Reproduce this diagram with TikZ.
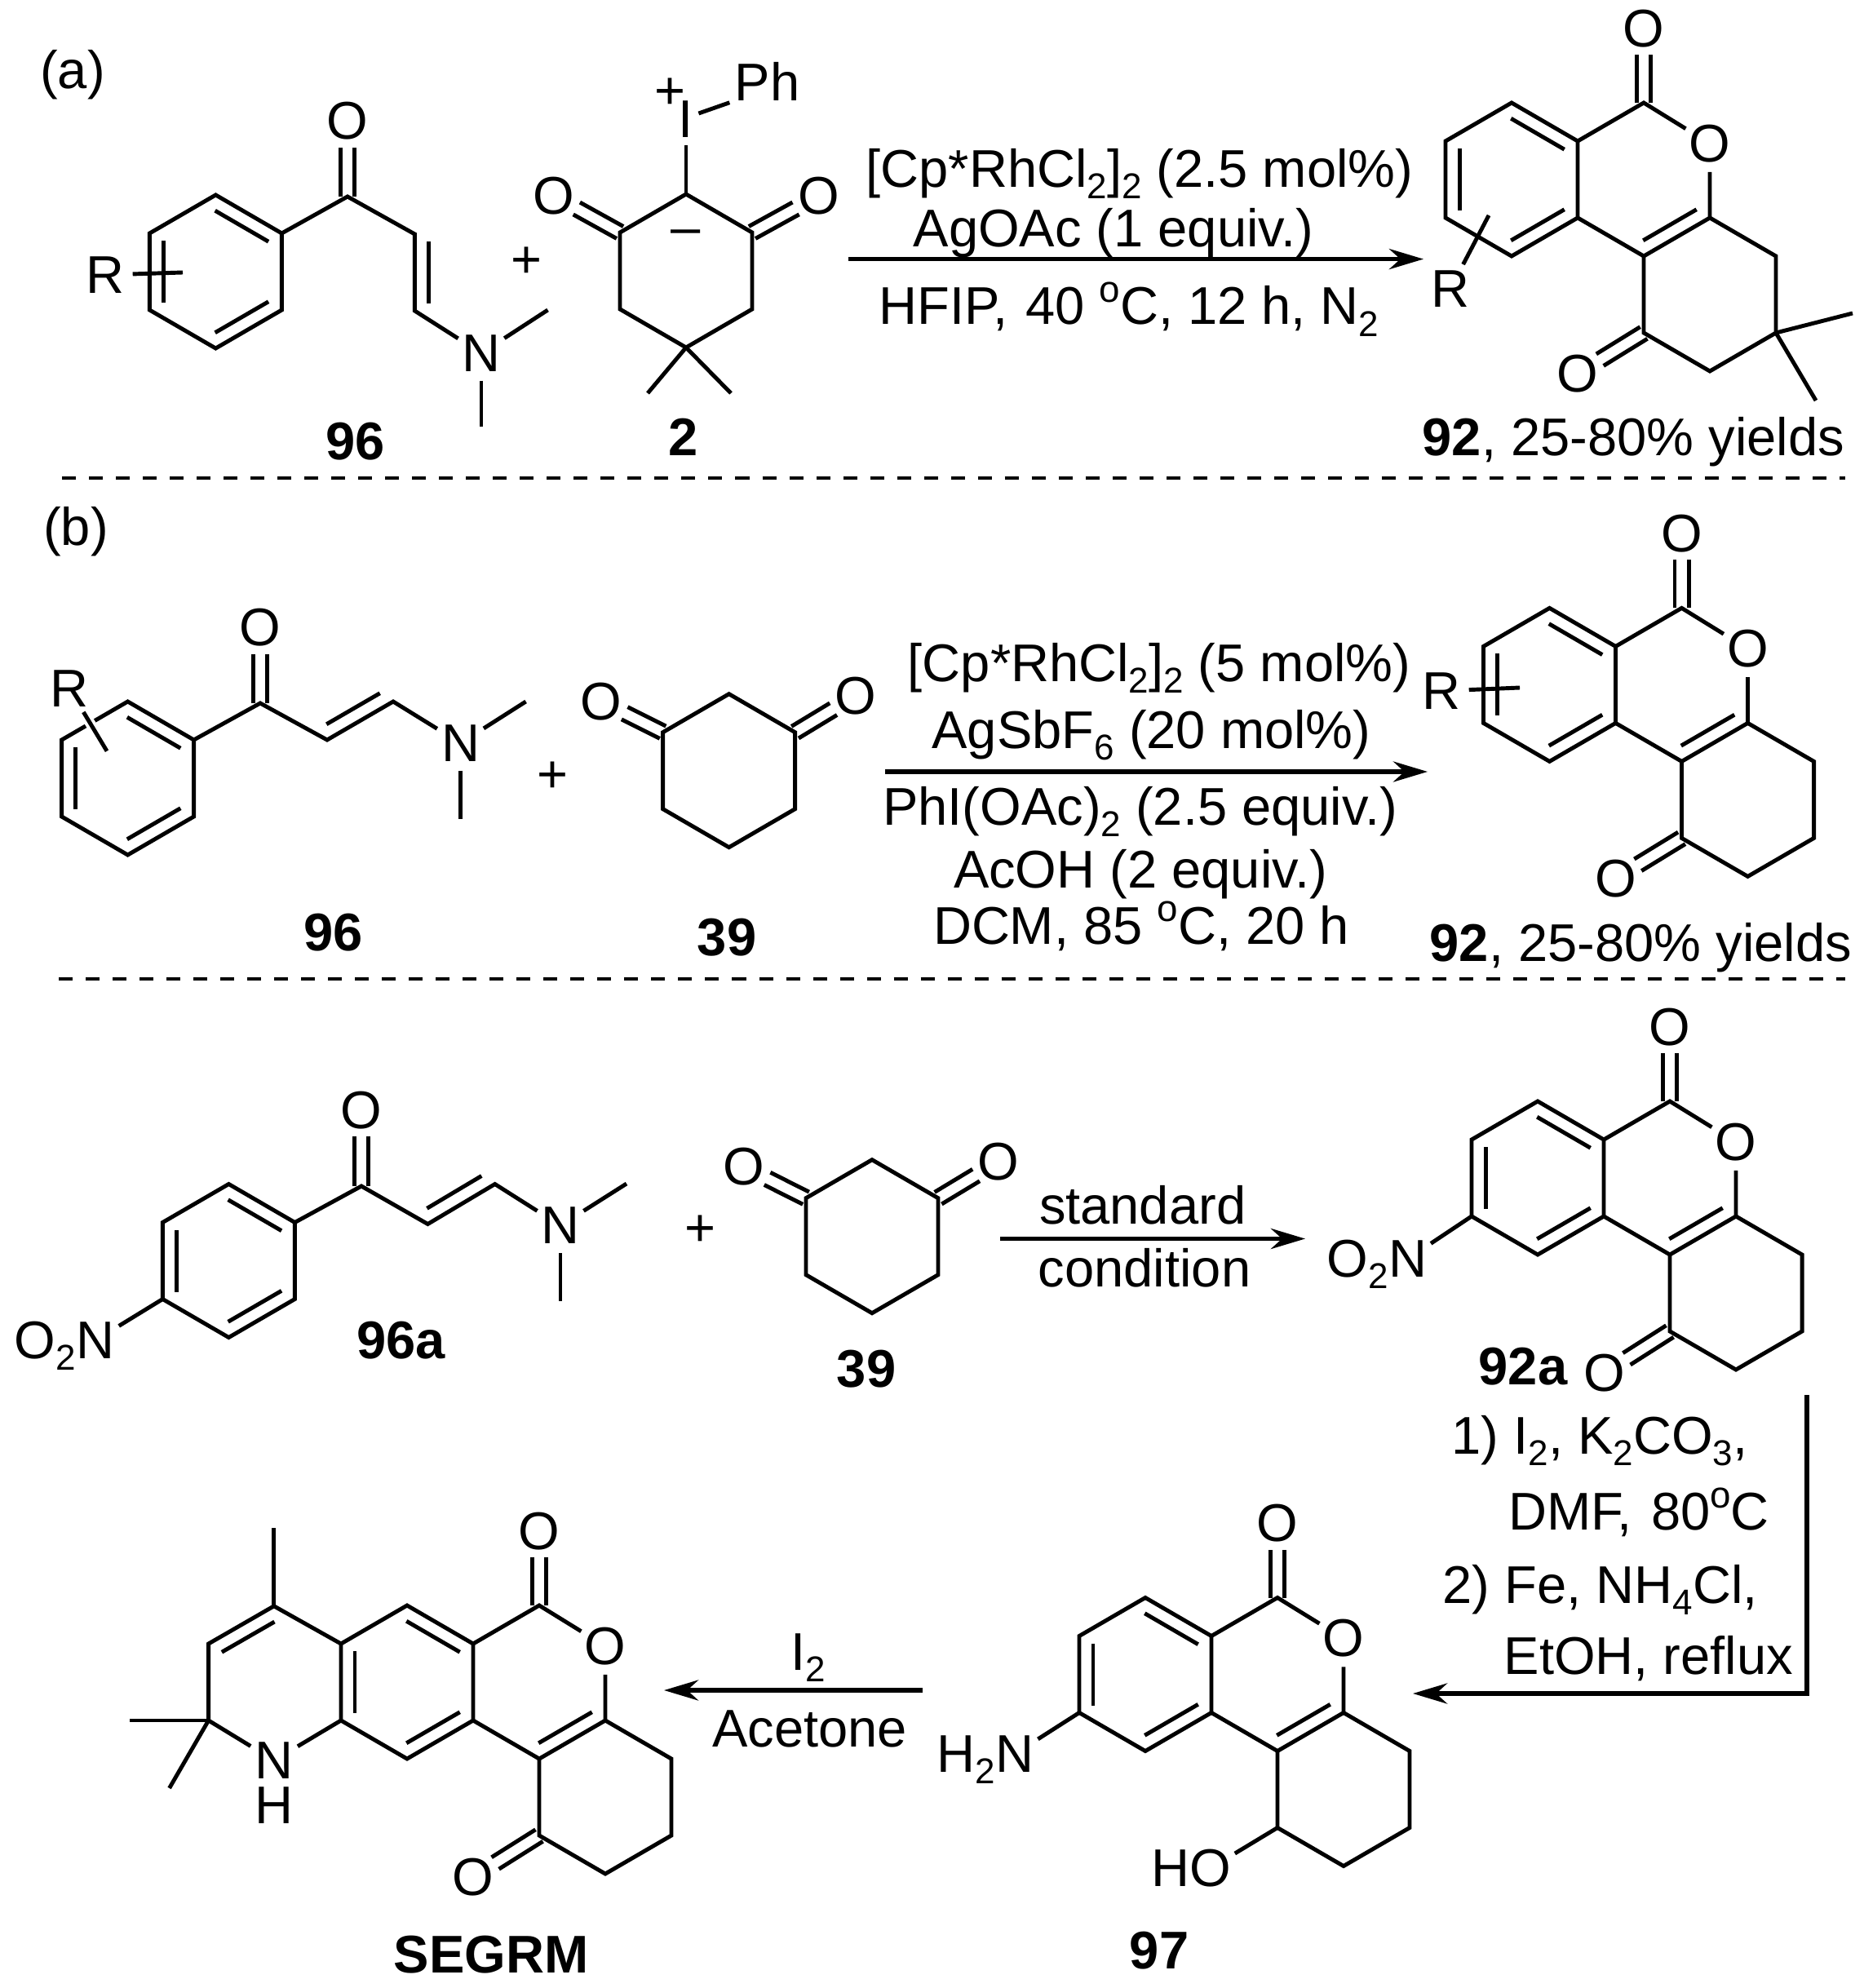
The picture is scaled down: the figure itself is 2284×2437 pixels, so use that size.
\documentclass[tikz,border=0pt]{standalone}
\usepackage{fontspec}
\setmainfont{Liberation Sans}
\usetikzlibrary{arrows.meta,positioning,calc}
\tikzset{
    bond/.style={line width=1.4pt, line join=miter},
    chemtext/.style={inner sep=0pt, font=\fontsize{18.5pt}{22pt}\selectfont},
    atom/.style={chemtext, circle, minimum size=.66cm},
    cpdlabel/.style={chemtext, font=\fontsize{18.5pt}{22pt}\selectfont\bfseries},
    reagent/.style={chemtext, anchor=base},
    rxnarrow/.style={line width=1.6pt, line join=miter, -{Stealth[length=.42cm,width=.25cm]}},
    divider/.style={line width=1.2pt, dash pattern=on .17cm off .16cm}
}
% lowered and raised small text
\newcommand{\sbs}[1]{\raisebox{-.14cm}{\fontsize{12.5pt}{14pt}\selectfont #1}}
\newcommand{\sps}[1]{\raisebox{.27cm}{\fontsize{13pt}{14pt}\selectfont #1}}
% inner line of a double bond, on the left of a to b
\newcommand{\innerbond}[2]{\draw[bond, shorten <=.09cm, shorten >=.09cm] ($(#1)!.17cm!90:(#2)$) -- ($(#2)!.17cm!-90:(#1)$);}
% C=O drawn as two lines round the axis
\newcommand{\carbonyl}[2]{%
    \draw[bond, shorten >=.32cm] ($(#1)!.085cm!90:(#2)$) -- ($(#2)!.085cm!-90:(#1)$);
    \draw[bond, shorten >=.32cm] ($(#1)!.085cm!-90:(#2)$) -- ($(#2)!.085cm!90:(#1)$);}
\newcommand{\hexring}[3]{%
    \begin{scope}[shift={(#2,#3)}]
        \foreach \n/\cx/\cy in {1/0/0,2/81/47,3/81/141,4/0/188,5/-81/141,6/-81/47}
            \coordinate (#1\n) at (\cx,\cy);
    \end{scope}
    \draw[bond] (#11) -- (#12) -- (#13) -- (#14) -- (#15) -- (#16) -- cycle;}
\newcommand{\benzring}[3]{%
    \hexring{#1}{#2}{#3}
    \innerbond{#12}{#11}
    \innerbond{#16}{#15}
    \innerbond{#14}{#13}}
% benzene, lactone and outer ring; #2,#3 is the top of the benzene
\newcommand{\tricycle}[3]{%
    \benzring{#1}{#2}{#3}
    \begin{scope}[shift={(#2,#3)}]
        \foreach \n/\cx/\cy in {7/162/0,9/243/141,10/162/188,11/324/188,12/324/282,13/243/329,14/162/282}
            \coordinate (#1\n) at (\cx,\cy);
        \node[atom] (#1Ox) at (162,-91) {O};
        \node[atom] (#1Or) at (243,50) {O};
    \end{scope}
    \carbonyl{#17}{#1Ox}
    \draw[bond] (#12) -- (#17) -- (#1Or) -- (#19) -- (#110) -- (#13);
    \draw[bond] (#19) -- (#111) -- (#112) -- (#113) -- (#114) -- (#110);
    \innerbond{#110}{#19}}
\begin{document}
\begin{tikzpicture}[x=.01cm, y=-.01cm]
    \useasboundingbox (0,0) rectangle (2284,2437);

    % Panel a
    \node[chemtext] (tagA) at (89,92) {(a)};

    % 96
    \benzring{ea}{264.4}{239}
    \coordinate (eaC) at (426,241);
    \coordinate (eaV1) at (508.4,287);
    \coordinate (eaV2) at (508.4,381);
    \coordinate (eaM1) at (671.5,380);
    \coordinate (eaM2) at (590,523.5);
    \coordinate (eaS) at (224,334);
    \node[atom] (eaO) at (426,148.5) {O};
    \node[atom] (eaN) at (590,433) {N};
    \node[atom] (eaR) at (129,337) {R};
    \carbonyl{eaC}{eaO}
    \draw[bond] (ea2) -- (eaC) -- (eaV1) -- (eaV2) -- (eaN);
    \draw[bond] (eaN) -- (eaM1);
    \draw[bond] (eaN) -- (eaM2);
    \draw[bond] (eaR) -- (eaS);
    \innerbond{eaV1}{eaV2}
    \node[cpdlabel] (lab96) at (435.5,541) {96};
    \node[chemtext] (plusA) at (645,322) {+};

    % 2
    \hexring{da}{841}{238}
    \coordinate (daM1) at (794,482);
    \coordinate (daM2) at (896,482);
    \node[atom] (daO1) at (678.8,240) {O};
    \node[atom] (daO2) at (1003.6,240) {O};
    \node[chemtext] (daI) at (841,146) {I};
    \node[chemtext] (daPh) at (940.5,99.5) {Ph};
    \node[chemtext] (daPlus) at (821,115) {+};
    \node[chemtext] (daMinus) at (841,291) {–};
    \carbonyl{da6}{daO1}
    \carbonyl{da2}{daO2}
    \draw[bond, shorten >=.09cm] (da1) -- (daI);
    \draw[bond, shorten <=.06cm, shorten >=.06cm] (daI.east) ++(0,-5) -- (daPh.south west);
    \draw[bond] (da4) -- (daM1);
    \draw[bond] (da4) -- (daM2);
    \node[cpdlabel] (lab2) at (837.6,536) {2};

    % conditions a
    \coordinate (arrAs) at (1040,317.6);
    \coordinate (arrAe) at (1745,317.6);
    \draw[rxnarrow] (arrAs) -- (arrAe);
    \node[reagent] (condA1) at (1397,229.6) {[Cp*RhCl\sbs{2}]\sbs{2} (2.5 mol\%)};
    \node[reagent] (condA2) at (1365,303) {AgOAc (1 equiv.)};
    \node[reagent] (condA3) at (1384,398) {HFIP,\,\,40 \sps{o}C, 12 h, N\sbs{2}};

    % 92
    \tricycle{pa}{1853}{126}
    \coordinate (paM1) at (2271,384);
    \coordinate (paM2) at (2226,491);
    \coordinate (paS) at (1825,264);
    \node[atom] (paO) at (1934,458) {O};
    \node[atom] (paR) at (1778,354) {R};
    \carbonyl{pa14}{paO}
    \draw[bond] (pa12) -- (paM1);
    \draw[bond] (pa12) -- (paM2);
    \draw[bond] (paR) -- (paS);
    \node[chemtext, anchor=base west] (labA) at (1743,558) {\textbf{92}, 25-80\% yields};

    \coordinate (divAs) at (76,586);
    \coordinate (divAe) at (2262,586);
    \draw[divider] (divAs) -- (divAe);

    % Panel b
    \node[chemtext] (tagB) at (93,652) {(b)};

    % 96
    \benzring{eb}{156.6}{860}
    \coordinate (ebC) at (319,862);
    \coordinate (ebV1) at (401,907);
    \coordinate (ebV2) at (482,860);
    \coordinate (ebM1) at (644.6,860);
    \coordinate (ebM2) at (564.5,1003.7);
    \coordinate (ebS) at (131,920.7);
    \node[atom] (ebO) at (319,769.5) {O};
    \node[atom] (ebN) at (564.5,911) {N};
    \node[atom] (ebR) at (85,844) {R};
    \carbonyl{ebC}{ebO}
    \draw[bond] (eb2) -- (ebC) -- (ebV1) -- (ebV2) -- (ebN);
    \draw[bond] (ebN) -- (ebM1);
    \draw[bond] (ebN) -- (ebM2);
    \draw[line width=3.6pt, white] (ebR) -- (ebS);
    \draw[bond] (ebR) -- (ebS);
    \innerbond{ebV1}{ebV2}
    \node[cpdlabel] (lab96b) at (409,1143) {96};
    \node[chemtext] (plusB) at (677,953) {+};

    % 39
    \hexring{db}{893.6}{850.7}
    \node[atom] (dbO1) at (737,860) {O};
    \node[atom] (dbO2) at (1049,852.6) {O};
    \carbonyl{db6}{dbO1}
    \carbonyl{db2}{dbO2}
    \node[cpdlabel] (lab39) at (891,1149) {39};

    % conditions b
    \coordinate (arrBs) at (1085,946);
    \coordinate (arrBe) at (1750,946);
    \draw[rxnarrow] (arrBs) -- (arrBe);
    \node[reagent] (condB1) at (1421,835) {[Cp*RhCl\sbs{2}]\sbs{2} (5 mol\%)};
    \node[reagent] (condB2) at (1411.5,917.6) {AgSbF\sbs{6} (20 mol\%)};
    \node[reagent] (condB3) at (1397.6,1011) {PhI(OAc)\sbs{2} (2.5 equiv.)};
    \node[reagent] (condB4) at (1398,1088) {AcOH (2 equiv.)};
    \node[reagent] (condB5) at (1399,1157) {DCM, 85 \sps{o}C, 20 h};

    % 92
    \tricycle{pb}{1899.5}{745.4}
    \coordinate (pbS) at (1863,843);
    \node[atom] (pbO) at (1980.5,1077) {O};
    \node[atom] (pbR) at (1767,847) {R};
    \carbonyl{pb14}{pbO}
    \draw[bond] (pbR) -- (pbS);
    \node[chemtext, anchor=base west] (labB) at (1752,1178) {\textbf{92}, 25-80\% yields};

    \coordinate (divBs) at (72,1200);
    \coordinate (divBe) at (2262,1200);
    \draw[divider] (divBs) -- (divBe);

    % 96a
    \benzring{en}{280.4}{1451.5}
    \coordinate (enC) at (443,1454);
    \coordinate (enV1) at (524.4,1500.5);
    \coordinate (enV2) at (606.7,1451.5);
    \coordinate (enM1) at (768,1451);
    \coordinate (enM2) at (687,1595);
    \node[atom] (enO) at (443,1361) {O};
    \node[atom] (enN) at (687,1502.4) {N};
    \node[atom] (enNO) at (117,1643) {N};
    \node[chemtext, anchor=base east] (enNOx) at ([xshift=-.235cm]enNO.base) {O\sbs{2}};
    \carbonyl{enC}{enO}
    \draw[bond] (en2) -- (enC) -- (enV1) -- (enV2) -- (enN);
    \draw[bond] (enN) -- (enM1);
    \draw[bond] (enN) -- (enM2);
    \draw[bond] (en5) -- (enNO);
    \innerbond{enV1}{enV2}
    \node[cpdlabel] (lab96a) at (491.6,1643) {96a};
    \node[chemtext] (plusC) at (858,1509) {+};

    % 39
    \hexring{dc}{1069}{1421.7}
    \node[atom] (dcO1) at (912,1430.5) {O};
    \node[atom] (dcO2) at (1224,1424) {O};
    \carbonyl{dc6}{dcO1}
    \carbonyl{dc2}{dcO2}
    \node[cpdlabel] (lab39b) at (1062,1678) {39};

    % standard condition
    \coordinate (arrCs) at (1226,1518.5);
    \coordinate (arrCe) at (1600,1518.5);
    \draw[rxnarrow] (arrCs) -- (arrCe);
    \node[reagent] (condC1) at (1400.6,1500) {standard};
    \node[reagent] (condC2) at (1403,1577) {condition};

    % 92a
    \tricycle{pc}{1885}{1350}
    \node[atom] (pcO) at (1967,1683) {O};
    \node[atom] (pcNO) at (1726,1543) {N};
    \node[chemtext, anchor=base east] (pcNOx) at ([xshift=-.235cm]pcNO.base) {O\sbs{2}};
    \carbonyl{pc14}{pcO}
    \draw[bond] (pc5) -- (pcNO);
    \node[cpdlabel] (lab92a) at (1867,1675) {92a};

    % reduction steps
    \coordinate (arrDs) at (2215,1710);
    \coordinate (arrDc) at (2215,2076);
    \coordinate (arrDe) at (1732,2076);
    \draw[rxnarrow] (arrDs) -- (arrDc) -- (arrDe);
    \node[chemtext, anchor=base west] (condD1) at (1779,1782) {1) I\sbs{2}, K\sbs{2}CO\sbs{3},};
    \node[chemtext, anchor=base west] (condD2) at (1848.5,1875) {DMF,\hspace{.05cm} 80\sps{o}C};
    \node[chemtext, anchor=base west] (condD3) at (1768,1965) {2) Fe, NH\sbs{4}Cl,};
    \node[chemtext, anchor=base west] (condD4) at (1843,2052) {EtOH, reflux};

    % 97
    \tricycle{pd}{1404}{1958.5}
    \node[atom] (pdO) at (1484,2290) {O};
    \node[chemtext, anchor=base east] (pdH) at ([xshift=-.25cm]pdO.base) {H};
    \node[atom] (pdN) at (1244,2150) {N};
    \node[chemtext, anchor=base east] (pdHx) at ([xshift=-.235cm]pdN.base) {H\sbs{2}};
    \draw[bond] (pd14) -- (pdO);
    \draw[bond] (pd5) -- (pdN);
    \node[cpdlabel] (lab97) at (1421,2391) {97};

    % I2 step
    \coordinate (arrEs) at (1131,2072);
    \coordinate (arrEe) at (814,2072);
    \draw[rxnarrow] (arrEs) -- (arrEe);
    \node[reagent] (condE1) at (990.5,2047) {I\sbs{2}};
    \node[reagent] (condE2) at (992.5,2141) {Acetone};

    % SEGRM
    \tricycle{ps}{499}{1968}
    \coordinate (psA) at (335.8,1968.8);
    \coordinate (psB) at (255.6,2015);
    \coordinate (psC) at (255.6,2109);
    \coordinate (psM1) at (335.8,1873);
    \coordinate (psM2) at (158.8,2109);
    \coordinate (psM3) at (207.6,2192);
    \node[atom] (psO) at (580,2301) {O};
    \node[atom] (psN) at (336,2158) {N};
    \node[chemtext] (psH) at (336,2213) {H};
    \carbonyl{ps14}{psO}
    \draw[bond] (ps6) -- (psA) -- (psB) -- (psC) -- (psN) -- (ps5);
    \draw[bond] (psA) -- (psM1);
    \draw[bond] (psC) -- (psM2);
    \draw[bond] (psC) -- (psM3);
    \innerbond{psA}{psB}
    \node[cpdlabel] (labS) at (602,2396.5) {SEGRM};
\end{tikzpicture}
\end{document}
